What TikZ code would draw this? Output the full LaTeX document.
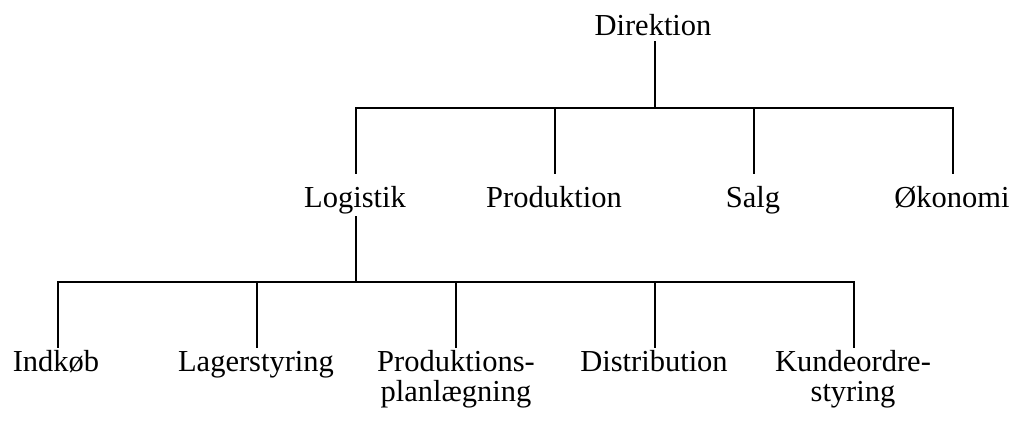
\documentclass[tikz,border=0pt]{standalone}
\usepackage{fontspec}
\setmainfont{Liberation Serif}
\begin{document}
\begin{tikzpicture}[x=1pt,y=-1pt,
  unit/.style={anchor=base,inner sep=0pt,font=\fontsize{30.5}{30}\selectfont,align=center},
  link/.style={line width=1.7pt,line cap=rect,line join=miter}]
\useasboundingbox (0,0) rectangle (1013,421);

% top level
\node[unit] (dir) at (653,35) {Direktion};

% second level
\node[unit] (log) at (355,207) {Logistik};
\node[unit] (prod) at (554,207) {Produktion};
\node[unit] (salg) at (753,207) {Salg};
\node[unit] (oek) at (952,207) {Økonomi};

% third level (under Logistik); two-line labels sit on their last line
\node[unit] (ind) at (56,371) {Indkøb};
\node[unit] (lag) at (256,371) {Lagerstyring};
\node[unit] (plan) at (456,401) {Produktions-\\planlægning};
\node[unit] (dist) at (654,371) {Distribution};
\node[unit] (kund) at (853,401) {Kundeordre-\\styring};

% junction points of the two bars
\coordinate (top) at (655,108);
\coordinate (low) at (356,282);

% Direktion to second level
\draw[link] ([xshift=2pt,yshift=-7pt]dir.base) -- (top);
\draw[link] (top) -| ([xshift=1pt,yshift=34pt]log.base);
\draw[link] (top) -| ([xshift=1pt,yshift=34pt]prod.base);
\draw[link] (top) -| ([xshift=1pt,yshift=34pt]salg.base);
\draw[link] (top) -| ([xshift=1pt,yshift=34pt]oek.base);

% Logistik to third level
\draw[link] ([xshift=1pt,yshift=-10pt]log.base) -- (low);
\draw[link] (low) -| ([xshift=2pt,yshift=24pt]ind.base);
\draw[link] (low) -| ([xshift=1pt,yshift=24pt]lag.base);
\draw[link] (low) -| ([yshift=54pt]plan.base);
\draw[link] (low) -| ([xshift=1pt,yshift=24pt]dist.base);
\draw[link] (low) -| ([xshift=1pt,yshift=54pt]kund.base);
\end{tikzpicture}
\end{document}
